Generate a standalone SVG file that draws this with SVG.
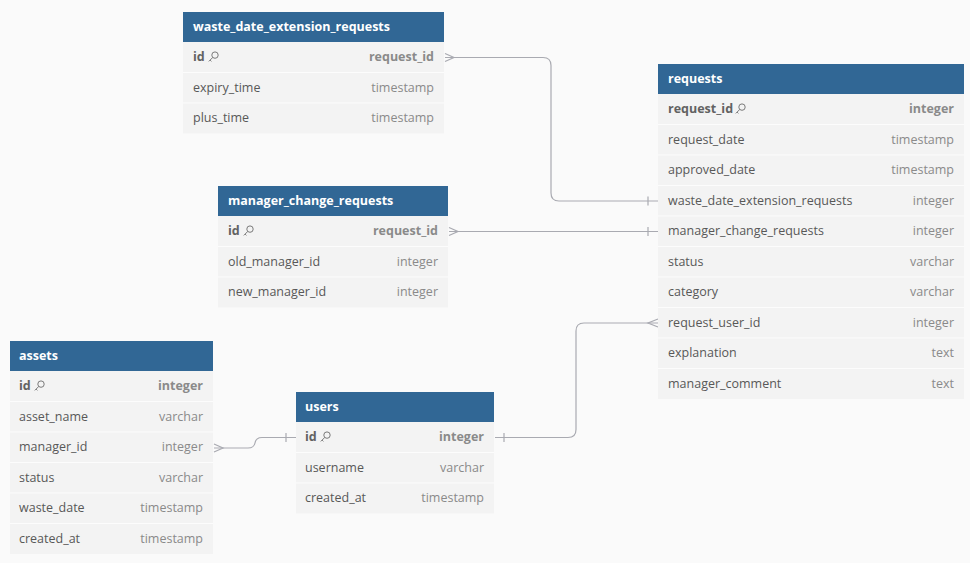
<svg xmlns="http://www.w3.org/2000/svg" width="970" height="563" viewBox="0 0 970 563">
<style>
.bg{fill:#fafafa}
.hd{fill:#316795}
.row{fill:#f3f3f3}
.sep{stroke:#fcfcfc;stroke-width:1}
.ht{font-family:"Open Sans","Noto Sans",sans-serif;font-size:12.5px;font-weight:700;fill:#ffffff}
.fn{font-family:"Open Sans","Noto Sans",sans-serif;font-size:12.5px;fill:#585858}
.ft{font-family:"Open Sans","Noto Sans",sans-serif;font-size:12.5px;fill:#8a8a8a;text-anchor:end}
.pk{font-weight:700}
.fn.pk{fill:#626262}
.key{fill:none;stroke:#7a7a7a;stroke-width:1}
.cn{fill:none;stroke:#a9aab1;stroke-width:1.2}
</style>
<defs>
<g id="keyicon"><circle class="key" cx="7" cy="3.6" r="3.2"/><path class="key" d="M4.8,5.9 L0.8,9.9 M2.1,8.6 L3.4,9.9"/></g>
</defs>
<rect class="bg" x="0" y="0" width="970" height="563"/>

<g id="connectors">
<path class="cn" d="M445,57.5 H543 Q551,57.5 551,65.5 V193 Q551,201 559,201 H658"/>
<path class="cn" d="M445,53.5 L454,57.5 L445,61.5"/>
<path class="cn" d="M648,196.5 V205.5"/>
<path class="cn" d="M449,231.5 H658"/>
<path class="cn" d="M449,227.5 L458,231.5 L449,235.5"/>
<path class="cn" d="M648,227 V236"/>
<path class="cn" d="M214,448 H248 Q254,448 255,443 Q256,437.5 262,437.5 H296"/>
<path class="cn" d="M214,444 L223,448 L214,452"/>
<path class="cn" d="M286,433 V442"/>
<path class="cn" d="M495,437.5 H568 Q576,437.5 576,429.5 V331 Q576,323 584,323 H658"/>
<path class="cn" d="M504,433 V442"/>
<path class="cn" d="M658,319 L648,323 L658,327"/>
</g>

<g id="waste_date_extension_requests">
<rect class="hd" x="183" y="12" width="261" height="30"/>
<rect class="row" x="183" y="42" width="261" height="91.5"/>
<line class="sep" x1="183" y1="72.5" x2="444" y2="72.5"/>
<line class="sep" x1="183" y1="103" x2="444" y2="103"/>
<text class="ht" x="193" y="31">waste_date_extension_requests</text>
<text class="fn pk" x="193" y="61">id</text>
<use href="#keyicon" x="208" y="51.5"/>
<text class="ft pk" x="434" y="61">request_id</text>
<text class="fn" x="193" y="91.5">expiry_time</text>
<text class="ft" x="434" y="91.5">timestamp</text>
<text class="fn" x="193" y="122">plus_time</text>
<text class="ft" x="434" y="122">timestamp</text>
</g>

<g id="manager_change_requests">
<rect class="hd" x="218" y="186" width="230" height="30"/>
<rect class="row" x="218" y="216" width="230" height="91.5"/>
<line class="sep" x1="218" y1="246.5" x2="448" y2="246.5"/>
<line class="sep" x1="218" y1="277" x2="448" y2="277"/>
<text class="ht" x="228" y="205">manager_change_requests</text>
<text class="fn pk" x="228" y="235">id</text>
<use href="#keyicon" x="243" y="225.5"/>
<text class="ft pk" x="438" y="235">request_id</text>
<text class="fn" x="228" y="265.5">old_manager_id</text>
<text class="ft" x="438" y="265.5">integer</text>
<text class="fn" x="228" y="296">new_manager_id</text>
<text class="ft" x="438" y="296">integer</text>
</g>

<g id="requests">
<rect class="hd" x="658" y="64" width="306" height="30"/>
<rect class="row" x="658" y="94" width="306" height="305"/>
<line class="sep" x1="658" y1="124.5" x2="964" y2="124.5"/>
<line class="sep" x1="658" y1="155" x2="964" y2="155"/>
<line class="sep" x1="658" y1="185.5" x2="964" y2="185.5"/>
<line class="sep" x1="658" y1="216" x2="964" y2="216"/>
<line class="sep" x1="658" y1="246.5" x2="964" y2="246.5"/>
<line class="sep" x1="658" y1="277" x2="964" y2="277"/>
<line class="sep" x1="658" y1="307.5" x2="964" y2="307.5"/>
<line class="sep" x1="658" y1="338" x2="964" y2="338"/>
<line class="sep" x1="658" y1="368.5" x2="964" y2="368.5"/>
<text class="ht" x="668" y="83">requests</text>
<text class="fn pk" x="668" y="113">request_id</text>
<use href="#keyicon" x="735" y="103.5"/>
<text class="ft pk" x="954" y="113">integer</text>
<text class="fn" x="668" y="143.5">request_date</text>
<text class="ft" x="954" y="143.5">timestamp</text>
<text class="fn" x="668" y="174">approved_date</text>
<text class="ft" x="954" y="174">timestamp</text>
<text class="fn" x="668" y="204.5">waste_date_extension_requests</text>
<text class="ft" x="954" y="204.5">integer</text>
<text class="fn" x="668" y="235">manager_change_requests</text>
<text class="ft" x="954" y="235">integer</text>
<text class="fn" x="668" y="265.5">status</text>
<text class="ft" x="954" y="265.5">varchar</text>
<text class="fn" x="668" y="296">category</text>
<text class="ft" x="954" y="296">varchar</text>
<text class="fn" x="668" y="326.5">request_user_id</text>
<text class="ft" x="954" y="326.5">integer</text>
<text class="fn" x="668" y="357">explanation</text>
<text class="ft" x="954" y="357">text</text>
<text class="fn" x="668" y="387.5">manager_comment</text>
<text class="ft" x="954" y="387.5">text</text>
</g>

<g id="assets">
<rect class="hd" x="10" y="341" width="203" height="30"/>
<rect class="row" x="10" y="371" width="203" height="183"/>
<line class="sep" x1="10" y1="401.5" x2="213" y2="401.5"/>
<line class="sep" x1="10" y1="432" x2="213" y2="432"/>
<line class="sep" x1="10" y1="462.5" x2="213" y2="462.5"/>
<line class="sep" x1="10" y1="493" x2="213" y2="493"/>
<line class="sep" x1="10" y1="523.5" x2="213" y2="523.5"/>
<text class="ht" x="19" y="360">assets</text>
<text class="fn pk" x="19" y="390">id</text>
<use href="#keyicon" x="34" y="380.5"/>
<text class="ft pk" x="203" y="390">integer</text>
<text class="fn" x="19" y="420.5">asset_name</text>
<text class="ft" x="203" y="420.5">varchar</text>
<text class="fn" x="19" y="451">manager_id</text>
<text class="ft" x="203" y="451">integer</text>
<text class="fn" x="19" y="481.5">status</text>
<text class="ft" x="203" y="481.5">varchar</text>
<text class="fn" x="19" y="512">waste_date</text>
<text class="ft" x="203" y="512">timestamp</text>
<text class="fn" x="19" y="542.5">created_at</text>
<text class="ft" x="203" y="542.5">timestamp</text>
</g>

<g id="users">
<rect class="hd" x="296" y="392" width="198" height="30"/>
<rect class="row" x="296" y="422" width="198" height="91.5"/>
<line class="sep" x1="296" y1="452.5" x2="494" y2="452.5"/>
<line class="sep" x1="296" y1="483" x2="494" y2="483"/>
<text class="ht" x="305" y="411">users</text>
<text class="fn pk" x="305" y="441">id</text>
<use href="#keyicon" x="320" y="431.5"/>
<text class="ft pk" x="484" y="441">integer</text>
<text class="fn" x="305" y="471.5">username</text>
<text class="ft" x="484" y="471.5">varchar</text>
<text class="fn" x="305" y="502">created_at</text>
<text class="ft" x="484" y="502">timestamp</text>
</g>
</svg>
